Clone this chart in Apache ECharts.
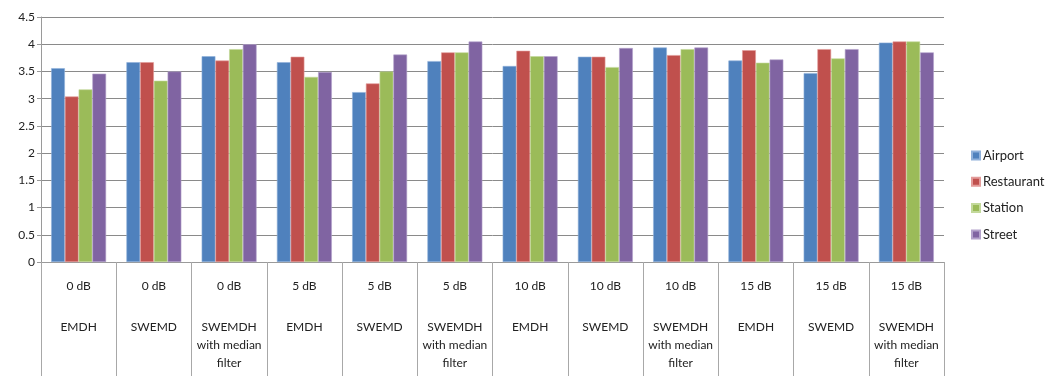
<!DOCTYPE html>
<html><head><meta charset="utf-8">
<script src="https://cdn.jsdelivr.net/npm/echarts@6/dist/echarts.min.js"></script>
<style>html,body{margin:0;padding:0;background:#fff}#c{width:1046px;height:376px}</style>
</head><body><div id="c"></div>
<script>
const noiseLevels = ['0 dB','0 dB','0 dB','5 dB','5 dB','5 dB','10 dB','10 dB','10 dB','15 dB','15 dB','15 dB'];
const methods = ['EMDH','SWEMD','SWEMDH\nwith median\nfilter','EMDH','SWEMD','SWEMDH\nwith median\nfilter','EMDH','SWEMD','SWEMDH\nwith median\nfilter','EMDH','SWEMD','SWEMDH\nwith median\nfilter'];
const airport    = [3.56,3.67,3.78,3.67,3.12,3.69,3.60,3.77,3.94,3.70,3.47,4.03];
const restaurant = [3.04,3.67,3.70,3.77,3.28,3.85,3.88,3.77,3.80,3.89,3.91,4.05];
const station    = [3.17,3.33,3.91,3.40,3.50,3.85,3.78,3.58,3.91,3.66,3.74,4.05];
const street     = [3.46,3.50,4.00,3.49,3.81,4.05,3.78,3.93,3.94,3.72,3.91,3.85];
const yTicks = {min:0, max:4.5, interval:0.5};

const categories = noiseLevels.map((n,i)=> n + '|' + methods[i]);
const colors = ['#4F81BD','#C0504D','#9BBB59','#8064A2'];
const borders = ['#8FB0DA','#E39B99','#C3D99B','#B3A2CB'];
const names = ['Airport','Restaurant','Station','Street'];
const datas = [airport,restaurant,station,street];
const font = 'Lato, "Open Sans", sans-serif';

const chart = echarts.init(document.getElementById('c'));
chart.setOption({
  animation:false,
  textStyle:{fontFamily:font},
  grid:{left:41,right:102,top:17,bottom:114,containLabel:false},
  legend:{orient:'vertical',left:966,top:144,itemWidth:8,itemHeight:8,itemGap:13.3,icon:'rect',
    textStyle:{fontFamily:font,fontSize:13,color:'#222',padding:[0,0,0,-2]}},
  xAxis:{type:'category',data:categories,
    axisLine:{lineStyle:{color:'#9a9a9a'}},
    axisTick:{show:true,interval:0,length:114,alignWithLabel:false,lineStyle:{color:'#a8a8a8'}},
    axisLabel:{interval:0,margin:15,color:'#222',
      formatter:function(v){const p=v.split('|');return '{a|'+p[0]+'}\n{g|}\n'+p[1].split('\n').map(s=>'{b|'+s+'}').join('\n');},
      rich:{a:{fontSize:12,lineHeight:18,fontFamily:font,color:'#222'},g:{lineHeight:23,fontSize:12},b:{fontSize:12,lineHeight:18,fontFamily:font,color:'#222'}}}},
  yAxis:{type:'value',min:yTicks.min,max:yTicks.max,interval:yTicks.interval,
    axisLine:{show:true,lineStyle:{color:'#9a9a9a'}},
    axisTick:{show:true,length:4,lineStyle:{color:'#9a9a9a'}},
    axisLabel:{color:'#222',fontSize:12,margin:6,fontFamily:font},
    splitLine:{lineStyle:{color:'#8a8a8a'}}},
  series:names.map((n,i)=>({name:n,type:'bar',data:datas[i],barGap:'0%',barCategoryGap:'27%',
    itemStyle:{color:colors[i],borderColor:borders[i],borderWidth:0.6}}))
});
</script></body></html>
